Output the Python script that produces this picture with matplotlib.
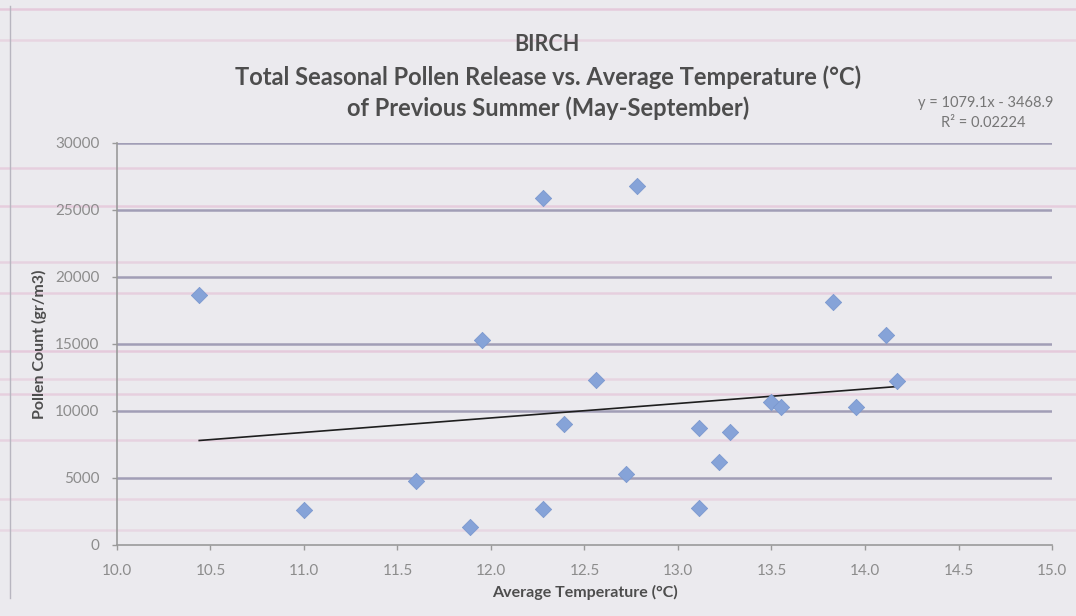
import numpy as np
import matplotlib.pyplot as plt
from matplotlib.lines import Line2D

# average May-September temperature of previous summer (°C)
temps = [10.44, 11.00, 11.60, 11.89, 11.95, 12.28, 12.28, 12.39, 12.56, 12.72,
         12.78, 13.11, 13.11, 13.22, 13.28, 13.50, 13.55, 13.83, 13.95, 14.11, 14.17]
# total seasonal birch pollen release
pollen = [18650, 2600, 4800, 1350, 15300, 25900, 2700, 9050, 12300, 5300,
          26800, 8750, 2750, 6200, 8450, 10650, 10300, 18150, 10300, 15650, 12250]

# linear trend reported for the series
slope = 1079.1
intercept = -3468.9
r_squared = 0.02224

x_ticks = [10.0, 10.5, 11.0, 11.5, 12.0, 12.5, 13.0, 13.5, 14.0, 14.5, 15.0]
y_ticks = [0, 5000, 10000, 15000, 20000, 25000, 30000]

bg = '#ebeaee'
txt = '#4d4d4d'
grid = '#a19eb6'
tick_grey = '#8c8c8c'

plt.rcParams['font.family'] = ['Lato', 'DejaVu Sans']

fig = plt.figure(figsize=(10.76, 6.16), dpi=100, facecolor=bg)
ax = fig.add_axes([0.1087, 0.1153, 0.8690, 0.6526], facecolor='none')

# faint pink scan streaks across the page
streaks = [(0.985, 0.6), (0.935, 0.4), (0.728, 0.5), (0.665, 0.55), (0.575, 0.45),
           (0.525, 0.5), (0.43, 0.6), (0.385, 0.4), (0.36, 0.5), (0.285, 0.45),
           (0.19, 0.4), (0.14, 0.35)]
for yy, a in streaks:
    fig.add_artist(Line2D([0, 1], [yy, yy], color='#e2b6cf', lw=1.8, alpha=a, zorder=-1))
fig.add_artist(Line2D([0.009, 0.009], [0.03, 0.99], color='#b8b6c0', lw=1.0, zorder=-1))

for t in y_ticks[1:]:
    ax.axhline(t, color=grid, lw=1.8, zorder=1)

ax.scatter(temps, pollen, marker='D', s=68, color='#86a3d8', edgecolors='#7b98cf',
           linewidths=0.6, zorder=3)

xs = np.array([min(temps), max(temps)])
ax.plot(xs, slope * xs + intercept, color='#1e1e1e', lw=1.2, zorder=2)

ax.set_xlim(10.0, 15.0)
ax.set_ylim(0, 30000)
ax.set_xticks(x_ticks)
ax.set_xticklabels([f'{t:.1f}' for t in x_ticks])
ax.set_yticks(y_ticks)
ax.set_yticklabels([str(t) for t in y_ticks])
ax.tick_params(colors='#9a9a9a', labelcolor=tick_grey, labelsize=11, length=3.5, width=1,
               direction='out')
ax.tick_params(axis='y', pad=9)
ax.tick_params(axis='x', pad=10)

for s in ['top', 'right']:
    ax.spines[s].set_visible(False)
for s in ['left', 'bottom']:
    ax.spines[s].set_color('#9a9a9a')
    ax.spines[s].set_linewidth(1.2)

ax.set_xlabel('Average Temperature (°C)', fontsize=11.5, fontweight='bold', color=txt, labelpad=5)
ax.set_ylabel('Pollen Count (gr/m3)', fontsize=11.5, fontweight='bold', color=txt, labelpad=6)

fig.text(0.508, 0.928, 'BIRCH', ha='center', va='center', fontsize=15.5, fontweight='bold', color=txt)
fig.text(0.509, 0.875, 'Total Seasonal Pollen Release vs. Average Temperature (°C)',
         ha='center', va='center', fontsize=17, fontweight='bold', color=txt)
fig.text(0.509, 0.825, 'of Previous Summer (May-September)',
         ha='center', va='center', fontsize=17, fontweight='bold', color=txt)

fig.text(0.916, 0.833, f'y = {slope}x - {abs(intercept)}', ha='center', va='center',
         fontsize=10.5, color='#767676')
fig.text(0.914, 0.800, f'R² = {r_squared}', ha='center', va='center',
         fontsize=10.5, color='#767676')

fig.savefig('out.png', dpi=100, facecolor=bg)
